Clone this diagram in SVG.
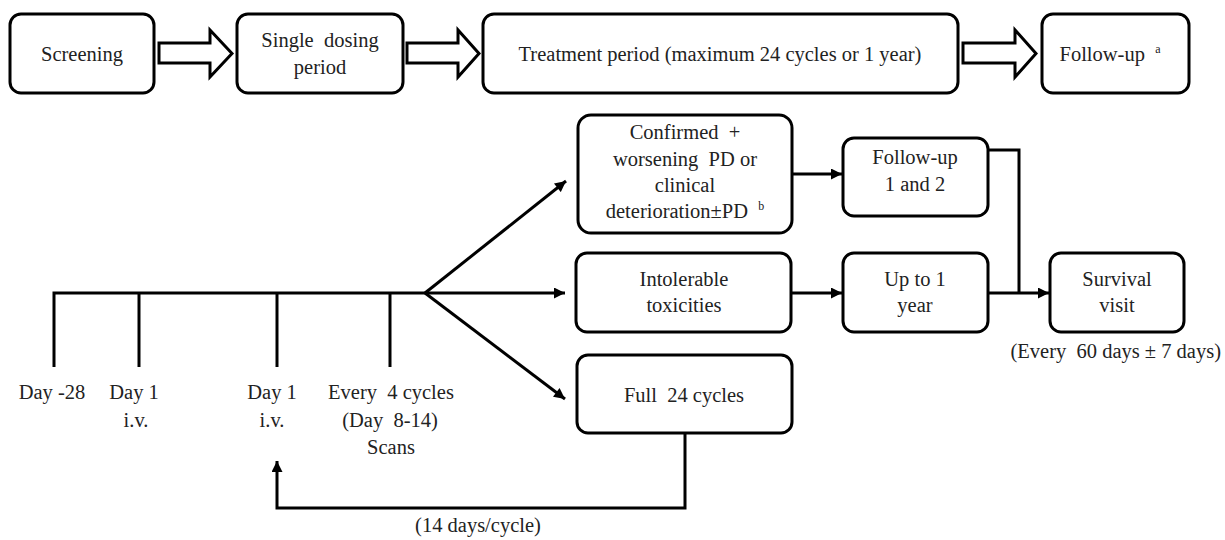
<svg xmlns="http://www.w3.org/2000/svg" width="1225" height="540" viewBox="0 0 1225 540">
<style>
.box{fill:#fff;stroke:#000;stroke-width:3}
.hol{fill:#fff;stroke:#000;stroke-width:3;stroke-linejoin:miter}
.ln{fill:none;stroke:#000;stroke-width:3}
text{font-family:"Liberation Serif","Times New Roman",serif;font-size:20.5px;fill:#222;text-anchor:middle;white-space:pre}
.sup{font-size:12px}
</style>
<defs>
<marker id="ah" viewBox="0 0 10 10" refX="10" refY="5" markerWidth="13" markerHeight="11" markerUnits="userSpaceOnUse" orient="auto">
<path d="M0,0 L10,5 L0,10 z" fill="#000"/>
</marker>
</defs>
<rect width="1225" height="540" fill="#fff"/>

<g id="screening"><rect class="box" x="10" y="14" width="144" height="79" rx="11"/><text x="82" y="61">Screening</text></g>
<g id="single"><rect class="box" x="237" y="14" width="166" height="79" rx="11"/><text x="320" y="47">Single  dosing</text><text x="320" y="74">period</text></g>
<g id="treatment"><rect class="box" x="483" y="14" width="475" height="79" rx="11"/><text x="720" y="61">Treatment period (maximum 24 cycles or 1 year)</text></g>
<g id="followup"><rect class="box" x="1042" y="14" width="147" height="79" rx="11"/><text x="1110" y="61">Follow-up  <tspan class="sup" dy="-8">a</tspan></text></g>

<g id="confirmed"><rect class="box" x="578" y="115" width="214" height="118" rx="13"/>
<text x="685" y="139">Confirmed  +</text><text x="685" y="166">worsening  PD or</text><text x="685" y="192">clinical</text><text x="685" y="218">deterioration±PD  <tspan class="sup" dy="-8">b</tspan></text></g>
<g id="fu12"><rect class="box" x="843" y="138" width="145" height="78" rx="11"/><text x="915" y="164">Follow-up</text><text x="915" y="191">1 and 2</text></g>
<g id="intolerable"><rect class="box" x="576" y="253" width="215" height="79" rx="11"/><text x="684" y="286">Intolerable</text><text x="684" y="312">toxicities</text></g>
<g id="upto1"><rect class="box" x="843" y="253" width="145" height="79" rx="11"/><text x="915" y="286">Up to 1</text><text x="915" y="312">year</text></g>
<g id="survival"><rect class="box" x="1050" y="253" width="134" height="79" rx="11"/><text x="1117" y="286">Survival</text><text x="1117" y="312">visit</text></g>
<text x="1221" y="358" style="text-anchor:end">(Every  60 days ± 7 days)</text>
<g id="full24"><rect class="box" x="577" y="355" width="215" height="78" rx="11"/><text x="684" y="402">Full  24 cycles</text></g>

<g id="hollow-arrows">
<path class="hol" d="M159,43 L210,43 L210,30 L232,53.5 L210,77 L210,63 L159,63 Z"/>
<path class="hol" d="M407,43 L458,43 L458,30 L479,53.5 L458,77 L458,63 L407,63 Z"/>
<path class="hol" d="M963,43 L1015,43 L1015,30 L1036,53.5 L1015,77 L1015,63 L963,63 Z"/>
</g>

<g id="connectors">
<path class="ln" d="M54,367 L54,293 L425,293"/>
<path class="ln" d="M139,293 L139,367"/>
<path class="ln" d="M277,293 L277,367"/>
<path class="ln" d="M390,293 L390,367"/>
<path class="ln" d="M425,293 L565,293" marker-end="url(#ah)"/>
<path class="ln" d="M425,293 L566,181" marker-end="url(#ah)"/>
<path class="ln" d="M425,293 L565,399" marker-end="url(#ah)"/>
<path class="ln" d="M792,174 L842,174" marker-end="url(#ah)"/>
<path class="ln" d="M791,293 L842,293" marker-end="url(#ah)"/>
<path class="ln" d="M988,293 L1049,293" marker-end="url(#ah)"/>
<path class="ln" d="M988,150 L1019,150 L1019,293"/>
<path class="ln" d="M685,433 L685,508 L277,508 L277,461" marker-end="url(#ah)"/>
</g>

<g id="labels">
<text x="52" y="399">Day -28</text>
<text x="134" y="399">Day 1</text>
<text x="136" y="427">i.v.</text>
<text x="272" y="399">Day 1</text>
<text x="272" y="427">i.v.</text>
<text x="391" y="399">Every  4 cycles</text>
<text x="390" y="427">(Day  8-14)</text>
<text x="391" y="454">Scans</text>
<text x="478" y="532">(14 days/cycle)</text>
</g>
</svg>
